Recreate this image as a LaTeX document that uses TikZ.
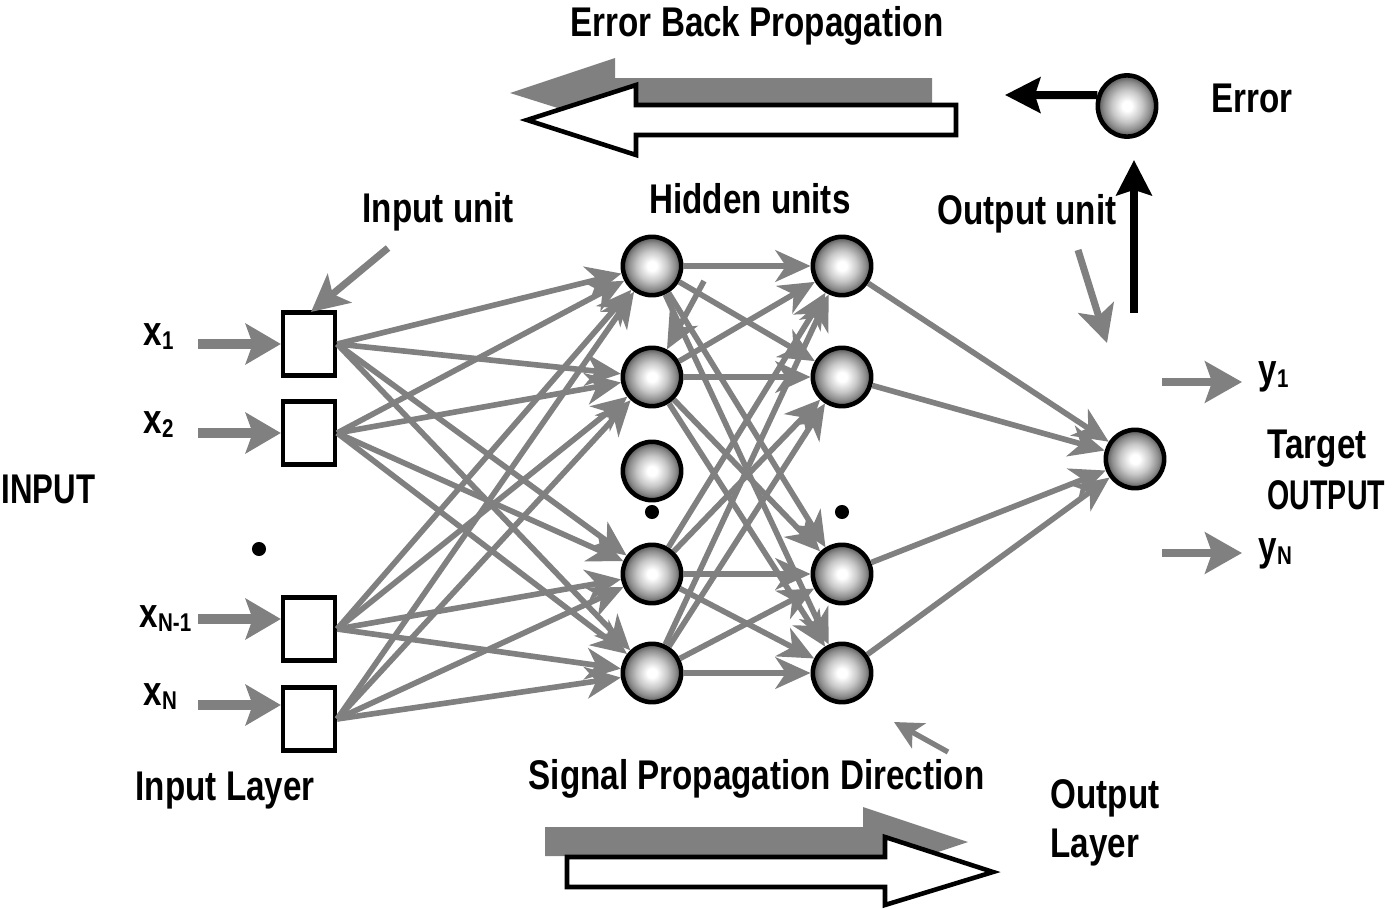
\documentclass[tikz,border=0pt]{standalone}
\usepackage{fontspec}
\newfontfamily\lblfont{Liberation Sans}[FakeStretch=0.8]
\usetikzlibrary{arrows.meta,shapes.geometric}
\definecolor{cgray}{RGB}{128,128,128}
\pgfdeclareradialshading{orbshade}{\pgfpoint{0bp}{0bp}}{color(0bp)=(white); color(4bp)=(white); color(13bp)=(black!22); color(20bp)=(black!45); color(25bp)=(black!68); color(50bp)=(black!68)}
\newcommand\sbx[1]{\raisebox{-1.4pt}{\fontsize{7.3pt}{8pt}\selectfont #1}}
\begin{document}
\begin{tikzpicture}[x=0.01cm,y=-0.01cm,
  lbl/.style={font=\lblfont\bfseries\fontsize{11.8pt}{13pt}\selectfont, inner sep=0pt, text=black},
  orb/.style={circle, draw=black, line width=1.3pt, minimum size=16.6pt, inner sep=0pt, shade, shading=orbshade},
  inbox/.style={draw=black, line width=1.2pt, minimum width=14.8pt, minimum height=17.9pt, inner sep=0pt, fill=white},
  conn/.style={draw=cgray, line width=1.6pt, -{Stealth[length=10pt,width=9pt,inset=3pt]}},
  inarr/.style={draw=cgray, line width=2.7pt, -{Stealth[length=10pt,width=11.5pt,inset=2pt]}},
  outarr/.style={draw=cgray, line width=2pt, -{Stealth[length=10.5pt,width=11.7pt,inset=2pt]}},
  ptr/.style={draw=cgray, line width=2pt, -{Stealth[length=10.5pt,width=10.5pt,inset=2.5pt]}},
  smallptr/.style={draw=cgray, line width=1.5pt, -{Stealth[length=8pt,width=8pt,inset=2pt]}},
  blk/.style={draw=black, line width=2.3pt, -{Stealth[length=10pt,width=10pt,inset=1.5pt]}},
  dotn/.style={circle, fill=black, minimum size=4pt, inner sep=0pt}
]
\useasboundingbox (0,0) rectangle (1396,909);
\fill[white] (0,0) rectangle (1396,909);

% ---- block arrows ----
\fill[cgray] (510,93) -- (615,58) -- (615,78) -- (932,78) -- (932,105) -- (615,105) -- (615,126) -- cycle;
\draw[black, line width=1.3pt, fill=white] (527,120) -- (636,85) -- (636,105) -- (956,105) -- (956,135) -- (636,135) -- (636,155) -- cycle;
\fill[cgray] (968,842) -- (863,807) -- (863,827) -- (545,827) -- (545,856) -- (863,856) -- (863,877) -- cycle;
\draw[black, line width=1.3pt, fill=white] (993,872) -- (885,837) -- (885,857) -- (567,857) -- (567,887) -- (885,887) -- (885,905) -- cycle;

% ---- nodes ----
\node[inbox] (b1) at (309,344) {};
\node[inbox] (b2) at (309,433) {};
\node[inbox] (b3) at (309,629) {};
\node[inbox] (b4) at (309,719) {};

\node[orb] (h1) at (652,266) {};
\node[orb] (h2) at (652,377) {};
\node[orb] (h3) at (652,471) {};
\node[orb] (h4) at (652,574) {};
\node[orb] (h5) at (652,673) {};

\node[orb] (g1) at (842,266) {};
\node[orb] (g2) at (842,377) {};
\node[orb] (g4) at (842,574) {};
\node[orb] (g5) at (842,673) {};

\node[orb] (out) at (1135,459) {};
\node[orb, ellipse, minimum size=0pt, minimum width=16.6pt, minimum height=17.4pt] (err) at (1127,106) {};

\node[dotn] (d1) at (259,549) {};
\node[dotn] (d2) at (652,512) {};
\node[dotn] (d3) at (842,512) {};

% ---- connections ----
\foreach \b in {b1,b2,b3,b4}{\foreach \h in {h1,h2,h4,h5}{\draw[conn] (\b.east) -- (\h);}}
\foreach \h in {h1,h2,h4,h5}{\foreach \g in {g1,g2,g4,g5}{\draw[conn] (\h) -- (\g);}}
\foreach \g in {g1,g2,g4,g5}{\draw[conn] (\g) -- (out);}
\coordinate (bk) at (704,281);
\draw[conn] (bk) -- (h2);

% ---- input arrows ----
\coordinate (i1) at (198,344);
\coordinate (i2) at (198,433);
\coordinate (i3) at (198,619);
\coordinate (i4) at (198,705);
\draw[inarr] (i1) -- (b1.west);
\draw[inarr] (i2) -- (b2.west);
\draw[inarr] (i3) -- (b3.west |- i3);
\draw[inarr] (i4) -- (b4.west |- i4);

% ---- output arrows ----
\coordinate (o1s) at (1162,382);
\coordinate (o1e) at (1242,382);
\coordinate (o2s) at (1162,553);
\coordinate (o2e) at (1242,553);
\draw[outarr] (o1s) -- (o1e);
\draw[outarr] (o2s) -- (o2e);

% ---- pointers ----
\coordinate (iup) at (388,248);
\coordinate (iut) at (311,312);
\draw[ptr] (iup) -- (iut);
\coordinate (oup) at (1078,250);
\coordinate (out2) at (1107,343);
\draw[ptr] (oup) -- (out2);
\coordinate (spp) at (948,752);
\coordinate (spt) at (894,722);
\draw[smallptr] (spp) -- (spt);

% ---- black error arrows ----
\coordinate (vbot) at (1134,313);
\coordinate (vtop) at (1134,160);
\draw[blk] (vbot) -- (vtop);
\coordinate (errtip) at (1005,95);
\draw[blk] (err.160) -- (errtip);

% ---- labels ----
\node[lbl, anchor=base] (tEBP) at (757,37) {Error Back Propagation};
\node[lbl, anchor=base west] (tErr) at (1211,112) {Error};
\node[lbl, anchor=base] (tHid) at (750,213) {Hidden units};
\node[lbl, anchor=base west] (tIU) at (362,222) {Input unit};
\node[lbl, anchor=base west] (tOU) at (937,225) {Output unit};
\node[lbl, anchor=base west] (tIN) at (1,503) {\scalebox{0.94}[1]{INPUT}};
\node[lbl, anchor=base west] (tIL) at (135,800) {Input Layer};
\node[lbl, anchor=base west] (tSPD) at (528,789) {Signal Propagation Direction};
\node[lbl, anchor=base west] (tOL1) at (1050,808) {Output};
\node[lbl, anchor=base west] (tOL2) at (1050,857) {Layer};
\node[lbl, anchor=base west] (tTO1) at (1267,458) {Target};
\node[lbl, anchor=base west] (tTO2) at (1267,509) {\scalebox{0.86}[1]{OUTPUT}};

\node[lbl, anchor=base west] (x1) at (143,345) {x\sbx{1}};
\node[lbl, anchor=base west] (x2) at (143,433) {x\sbx{2}};
\node[lbl, anchor=base west] (x3) at (139,627) {x\sbx{N-1}};
\node[lbl, anchor=base west] (x4) at (143,705) {x\sbx{N}};
\node[lbl, anchor=base west] (y1) at (1258,383) {y\sbx{1}};
\node[lbl, anchor=base west] (y2) at (1258,560) {y\sbx{N}};
\end{tikzpicture}
\end{document}
